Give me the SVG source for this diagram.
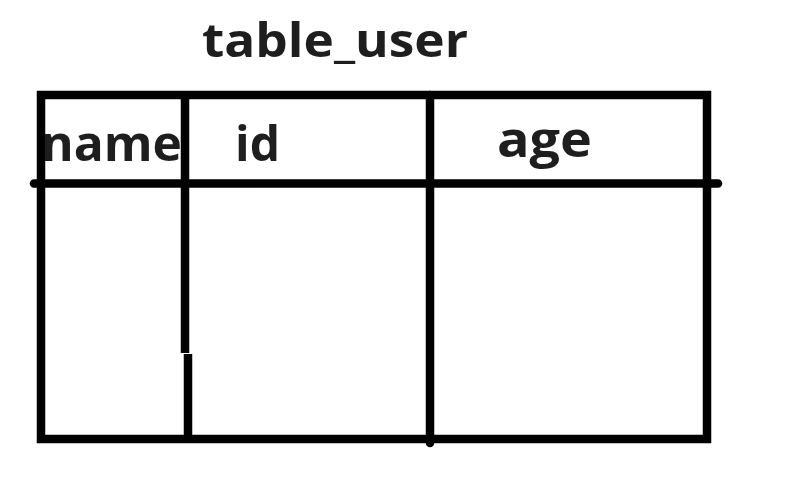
<svg xmlns="http://www.w3.org/2000/svg" width="793" height="492" viewBox="0 0 793 492">
<style>
.ln{stroke:#000;stroke-width:8.5;fill:none;stroke-linecap:butt}
.rc{stroke-linecap:round}
.t{font-family:"Open Sans","Noto Sans","DejaVu Sans",sans-serif;font-weight:bold;fill:#1e1e1e}
</style>
<rect width="793" height="492" fill="#fff"/>
<g id="title"><text class="t" x="202" y="57" font-size="47" textLength="266" lengthAdjust="spacingAndGlyphs">table_user</text></g>
<g id="table_user">
<g id="connectors">
<rect class="ln" x="41" y="95" width="666" height="344"/>
<line class="ln rc" x1="34" y1="183.5" x2="718" y2="183.5"/>
<line class="ln" x1="185" y1="95" x2="185" y2="353"/>
<line class="ln" x1="188" y1="354" x2="188" y2="439"/>
<line class="ln rc" x1="430" y1="95" x2="430" y2="443"/>
</g>
<g id="h_name"><text class="t" x="41" y="161" font-size="48" textLength="141" lengthAdjust="spacingAndGlyphs">name</text></g>
<g id="h_id"><text class="t" x="235" y="161" font-size="49" textLength="45" lengthAdjust="spacingAndGlyphs">id</text></g>
<g id="h_age"><text class="t" x="497" y="157" font-size="50" textLength="95" lengthAdjust="spacingAndGlyphs">age</text></g>
</g>
</svg>
